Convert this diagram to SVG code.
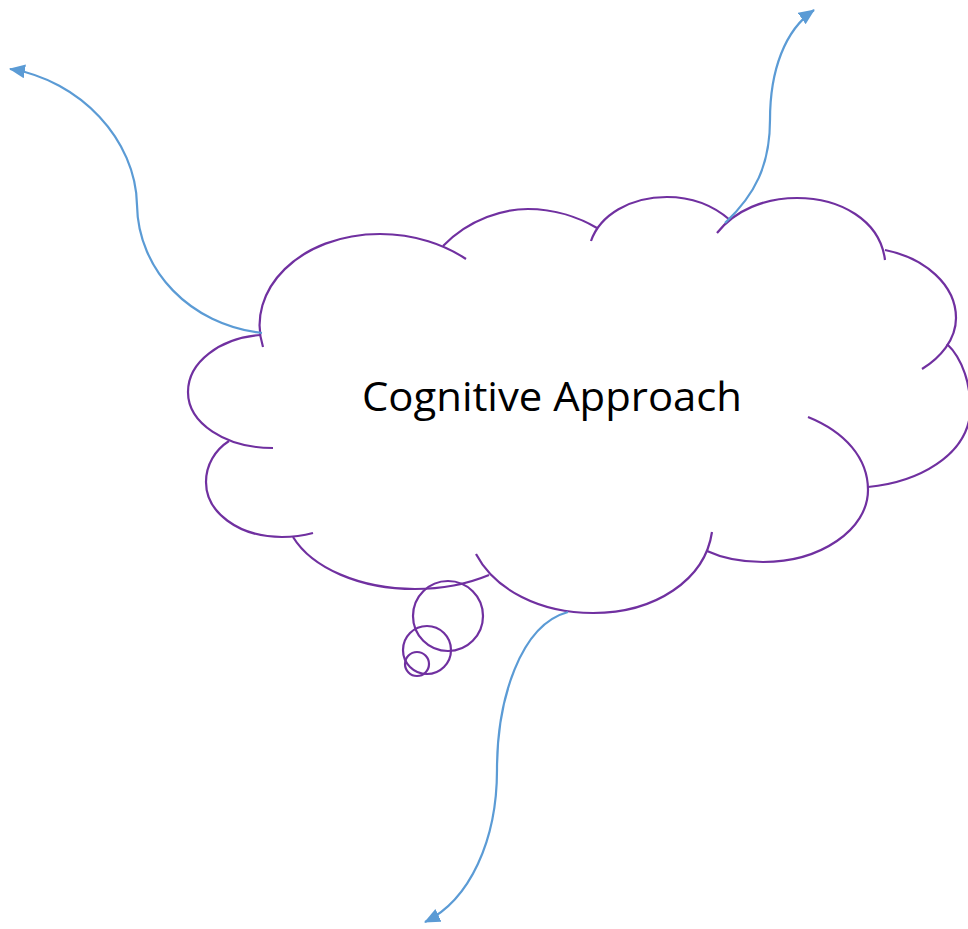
<svg xmlns="http://www.w3.org/2000/svg" width="968" height="929" viewBox="0 0 968 929">
<style>
.c{fill:none;stroke:#7030A0;stroke-width:2.2;stroke-linecap:butt}
.a{fill:none;stroke:#5B9BD5;stroke-width:2.2}
.t{font-family:"Open Sans","Noto Sans",sans-serif;font-size:41px;fill:#000}
</style>
<defs>
<marker id="ah" markerUnits="userSpaceOnUse" markerWidth="18" markerHeight="16" refX="15" refY="7" orient="auto">
<path d="M0,0 L16,7 L0,14 Z" fill="#5B9BD5"/>
</marker>
</defs>
<rect width="968" height="929" fill="#fff"/>
<g id="cloud">
<path class="c" d="M263,347 C245,290 300,234 380,234 C415,234 445,245 466,259"/>
<path class="c" d="M443,246 C470,218 505,209 528,209 C555,209 580,218 597,228"/>
<path class="c" d="M591,241 C600,215 630,197 667,197 C695,197 715,207 730,220"/>
<path class="c" d="M717,233 C735,210 765,198 797,198 C840,198 880,220 885,260"/>
<path class="c" d="M885,250 C925,258 956,285 956,318 C956,340 940,358 922,369"/>
<path class="c" d="M947,344 C962,358 972,385 970,415 C965,455 920,482 868,487"/>
<path class="c" d="M808,417 C845,432 868,458 868,490 C868,530 820,562 763,562 C740,562 722,558 707,551"/>
<path class="c" d="M712,532 C705,580 655,613 593,613 C540,613 495,590 476,554"/>
<path class="c" d="M489,575 C465,585 440,589 415,589 C360,589 312,568 293,537"/>
<path class="c" d="M313,533 C302,536 292,537 282,537 C238,537 206,512 206,482 C206,465 215,450 229,441"/>
<path class="c" d="M273,448 C225,448 188,423 188,392 C188,362 220,338 261,335"/>
<text class="t" x="362" y="411" textLength="380" lengthAdjust="spacingAndGlyphs">Cognitive Approach</text>
</g>
<g id="bubbles">
<circle class="c" cx="448" cy="616" r="35"/>
<circle class="c" cx="427" cy="650" r="24"/>
<circle class="c" cx="417" cy="664" r="12"/>
</g>
<g id="connectors">
<path class="a" marker-end="url(#ah)" d="M262,333 C190,325 138,270 137,205 C136,140 80,80 10,69"/>
<path class="a" marker-end="url(#ah)" d="M725,223 C755,195 770,165 770,120 C770,70 785,30 814,10"/>
<path class="a" marker-end="url(#ah)" d="M568,612 C520,625 497,700 497,770 C497,840 470,900 425,922"/>
</g>
</svg>
